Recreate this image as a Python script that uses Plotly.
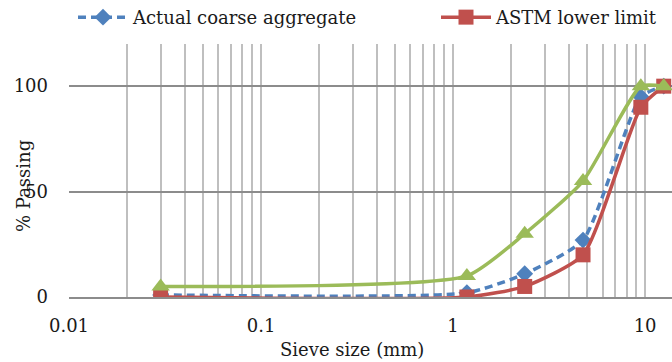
import plotly.graph_objects as go

sieve_mm = [0.03, 1.18, 2.36, 4.75, 9.5, 12.5]
actual = [1, 2, 11, 27, 95, 100]
astm_lower = [0, 0, 5, 20, 90, 100]
astm_upper = [5, 10, 30, 55, 100, 100]

x_tick_vals = [0.01, 0.1, 1, 10]
x_tick_text = ["0.01", "0.1", "1", "10"]
y_tick_vals = [0, 50, 100]

minor_vals = [m * 10 ** e for e in range(-2, 2) for m in range(2, 10)]

FONT = "DejaVu Serif"
FS = 18
BLUE = "#4F81BD"
RED = "#C0504D"
GREEN = "#9BBB59"
SM = 0.55

fig = go.Figure()
fig.add_trace(go.Scatter(
    x=sieve_mm, y=actual, name="Actual coarse aggregate", mode="lines+markers",
    line=dict(color=BLUE, width=3.5, dash="8px,5px", shape="spline", smoothing=SM),
    marker=dict(symbol="diamond", size=13, color=BLUE), legend="legend",
))
fig.add_trace(go.Scatter(
    x=sieve_mm, y=astm_lower, name="ASTM lower limit", mode="lines+markers",
    line=dict(color=RED, width=3.5, shape="spline", smoothing=SM),
    marker=dict(symbol="square", size=15, color=RED), legend="legend2",
))
fig.add_trace(go.Scatter(
    x=sieve_mm, y=astm_upper, name="ASTM upper limit", mode="lines+markers",
    line=dict(color=GREEN, width=3.5, shape="spline", smoothing=SM),
    marker=dict(symbol="triangle-up", size=16, color=GREEN),
    showlegend=False,
))

leg_common = dict(orientation="h", y=1.105, xanchor="left", yanchor="middle",
                  font=dict(family=FONT, size=FS), bgcolor="rgba(0,0,0,0)", itemwidth=50)

fig.update_layout(
    width=672, height=362,
    margin=dict(l=69, r=0, t=44, b=65, autoexpand=False),
    paper_bgcolor="white", plot_bgcolor="white",
    font=dict(family=FONT, size=FS, color="#1a1a1a"),
    legend=dict(x=4 / 603, **leg_common),
    legend2=dict(x=(436 - 69) / 603, **leg_common),
    xaxis=dict(
        type="log", range=[-2, 1.14], tickvals=x_tick_vals, ticktext=x_tick_text,
        showgrid=True, gridcolor="#BFBFBF", gridwidth=1.5,
        minor=dict(tickvals=minor_vals, showgrid=True, gridcolor="#BFBFBF", gridwidth=1.5),
        showline=True, linecolor="#8C8C8C", linewidth=1.5,
        ticks="", ticklabelstandoff=12, zeroline=False,
        tickfont=dict(family=FONT, size=FS),
    ),
    yaxis=dict(
        range=[0, 120], tickvals=y_tick_vals,
        showgrid=True, gridcolor="#8C8C8C", gridwidth=1.5,
        zeroline=False, showline=False, ticks="", ticklabelstandoff=20,
        tickfont=dict(family=FONT, size=FS),
    ),
    annotations=[
        dict(text="Sieve size (mm)", xref="paper", yref="paper", x=(352 - 69) / 603,
             y=-(349 - 297) / 253, xanchor="center", yanchor="middle", showarrow=False,
             font=dict(family=FONT, size=FS)),
        dict(text="% Passing", xref="paper", yref="paper", x=-(69 - 23) / 603,
             y=(297 - 186) / 253, xanchor="center", yanchor="middle", showarrow=False,
             textangle=-90, font=dict(family=FONT, size=FS)),
    ],
)

fig.write_html("out.html")
